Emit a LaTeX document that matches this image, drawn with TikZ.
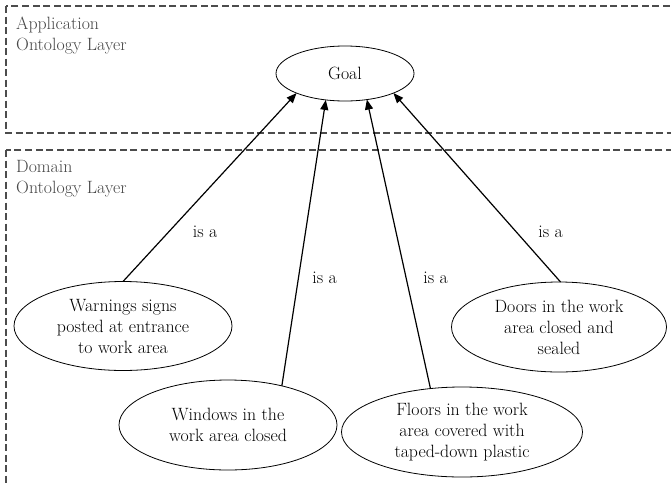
\documentclass[tikz,border=0pt]{standalone}
\usetikzlibrary{shapes.geometric,arrows.meta}
\tikzset{
  layerbox/.style={draw=black!70, line width=1.3pt, dash pattern=on 7pt off 3.5pt},
  layerlabel/.style={anchor=north west, inner sep=0pt, align=left, text=black!72},
  concept/.style={draw, ellipse, line width=0.8pt, inner sep=0pt, outer sep=0pt, align=center},
  isa/.style={-{Triangle[length=10pt,width=8pt]}, line width=1.2pt},
  isalabel/.style={anchor=base, inner sep=0pt},
}
\begin{document}
\begin{tikzpicture}[x=1pt,y=-1pt,font=\fontsize{17.8}{21}\selectfont]
\clip (0,0) rectangle (671,482);
\fill[white] (0,0) rectangle (671,482);
% layers
\draw[layerbox] (6,6) rectangle (720,133);
\draw[layerbox] (6,150) rectangle (720,520);
\node[layerlabel] (applbl) at (16,16.8) {Application\\Ontology Layer};
\node[layerlabel] (domlbl) at (16,159.8) {Domain\\Ontology Layer};
% concepts
\node[concept, minimum width=138pt, minimum height=55pt] (goal) at (345,73.5) {Goal};
\node[concept, minimum width=218pt, minimum height=89pt] (warn) at (123,326) {Warnings signs\\posted at entrance\\to work area};
\node[concept, minimum width=218pt, minimum height=90pt] (win) at (228,425) {Windows in the\\work area closed};
\node[concept, minimum width=241pt, minimum height=90pt] (floor) at (462,432) {Floors in the work\\area covered with\\taped-down plastic};
\node[concept, minimum width=215pt, minimum height=90pt] (door) at (559,327) {Doors in the work\\area closed and\\sealed};
% is-a links
\draw[isa] (warn.90) -- (goal.202.8);
\draw[isa] (win.36.4) -- (goal.234.5);
\draw[isa] (floor.126.3) -- (goal.-50.8);
\draw[isa] (door.88.7) -- (goal.-22);
\node[isalabel] (l1) at (205,237) {is a};
\node[isalabel] (l2) at (324.5,283) {is a};
\node[isalabel] (l3) at (435.5,283) {is a};
\node[isalabel] (l4) at (550.5,237) {is a};
\end{tikzpicture}
\end{document}
